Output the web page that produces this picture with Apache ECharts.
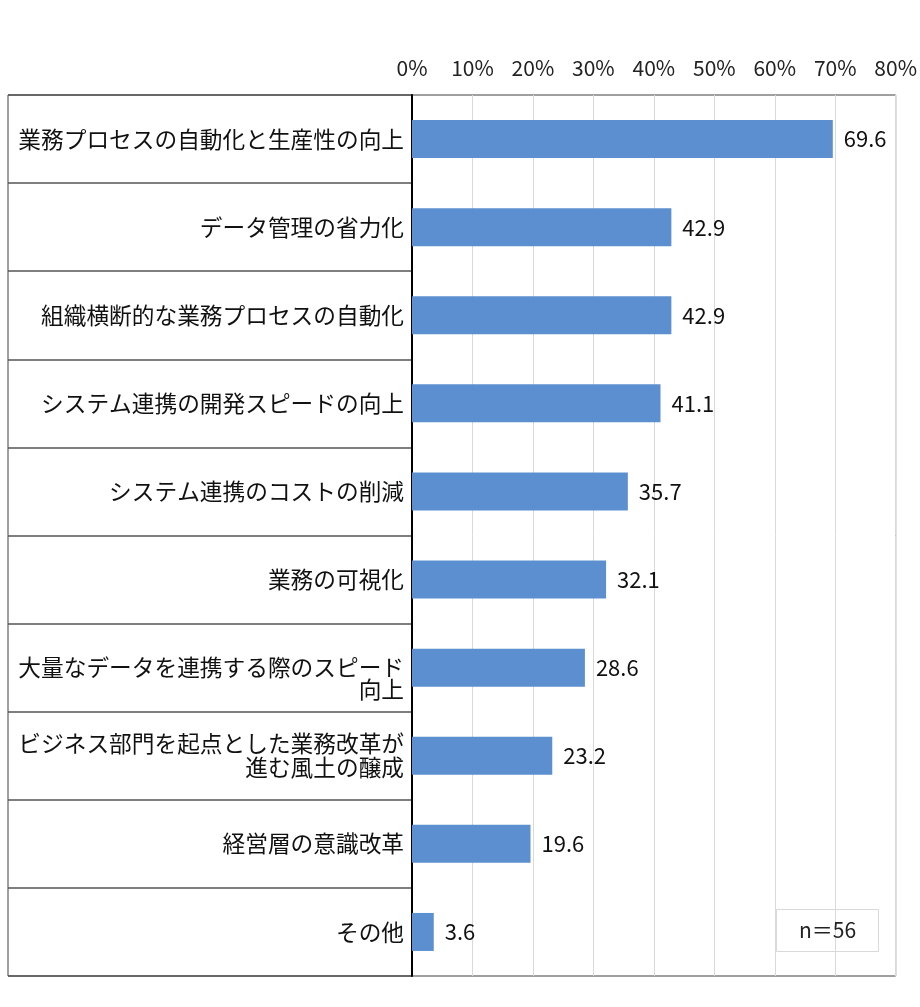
<!DOCTYPE html>
<html>
<head>
<meta charset="utf-8">
<style>html,body{margin:0;padding:0;background:#fff;}#c{width:920px;height:1007px;}</style>
<script src="https://cdn.jsdelivr.net/npm/echarts@6/dist/echarts.min.js"></script>
</head>
<body>
<div id="c"></div>
<script>
const categories = [
  '業務プロセスの自動化と生産性の向上',
  'データ管理の省力化',
  '組織横断的な業務プロセスの自動化',
  'システム連携の開発スピードの向上',
  'システム連携のコストの削減',
  '業務の可視化',
  '大量なデータを連携する際のスピード\n向上',
  'ビジネス部門を起点とした業務改革が\n進む風土の醸成',
  '経営層の意識改革',
  'その他'
];
const values = [69.6, 42.9, 42.9, 41.1, 35.7, 32.1, 28.6, 23.2, 19.6, 3.6];
const axisMax = 80;
const axisStep = 10;
const noteText = 'n＝56';

const FONT = '"Noto Sans CJK JP", "Noto Sans", sans-serif';
const chart = echarts.init(document.getElementById('c'));
chart.setOption({
  animation: false,
  backgroundColor: '#fff',
  title: {
    text: noteText,
    left: 776,
    top: 909,
    padding: [11, 23, 11, 23],
    borderColor: '#d9d9d9',
    borderWidth: 1,
    textStyle: { fontFamily: FONT, fontSize: 21, fontWeight: 'normal', color: '#222' }
  },
  grid: [
    { left: 412, right: 21, top: 95, bottom: 31, show: true, borderColor: '#404040', borderWidth: 1, backgroundColor: 'transparent' },
    { left: 8, right: 508, top: 95, bottom: 31, show: true, borderColor: '#404040', borderWidth: 1, backgroundColor: 'transparent' }
  ],
  xAxis: [
    {
      gridIndex: 0, type: 'value', position: 'top', min: 0, max: axisMax, interval: axisStep,
      axisLine: { show: false }, axisTick: { show: false },
      splitLine: { show: true, lineStyle: { color: '#d9d9d9', width: 1 } },
      axisLabel: { formatter: '{value}%', fontFamily: FONT, fontSize: 21, color: '#222', margin: 16 }
    },
    { gridIndex: 1, type: 'value', show: false, min: 0, max: 1 }
  ],
  yAxis: [
    {
      gridIndex: 0, type: 'category', data: categories, inverse: true,
      axisLine: { show: true, lineStyle: { color: '#000', width: 2 } },
      axisTick: { show: false }, splitLine: { show: false },
      axisLabel: {
        margin: 8, fontFamily: FONT, fontSize: 22.7, color: '#111', align: 'right', lineHeight: 24,
        formatter: function (v) {
          if (v.indexOf('大量な') === 0) return '{low|' + v + '}';
          return v;
        },
        rich: { low: { fontFamily: FONT, fontSize: 22.7, color: '#111', lineHeight: 22, padding: [22, 0, 0, 0], align: 'right' } }
      }
    },
    {
      gridIndex: 1, type: 'category', data: categories, inverse: true,
      axisLine: { show: false }, axisTick: { show: false }, axisLabel: { show: false },
      splitLine: { show: true, lineStyle: { color: '#555', width: 1.5 } }
    }
  ],
  series: [{
    type: 'bar', xAxisIndex: 0, yAxisIndex: 0, data: values, barWidth: 38,
    itemStyle: { color: '#5B8FCF' },
    label: { show: true, position: 'right', distance: 11, fontFamily: FONT, fontSize: 22, color: '#111',
      formatter: function (p) { return p.value.toFixed(1); } }
  }]
});
</script>
</body>
</html>
